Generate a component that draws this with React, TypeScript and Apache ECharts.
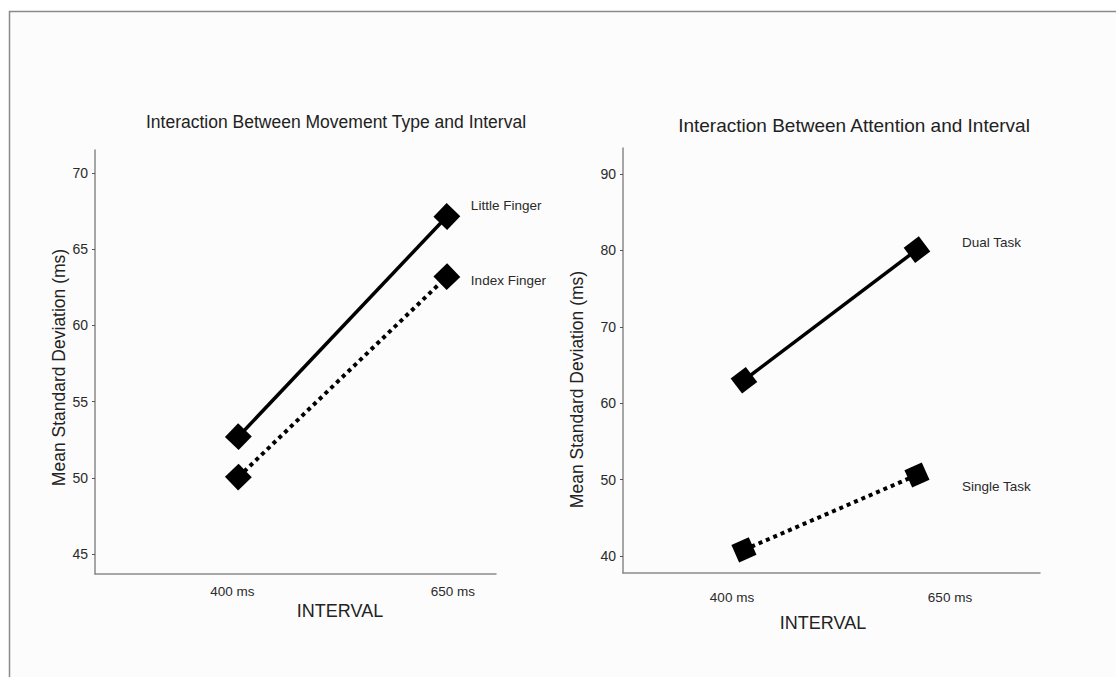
import React, { useEffect, useRef } from "react";
import * as echarts from "echarts";

// ---- data ----
const intervals = ["400 ms", "650 ms"];
const littleFinger = [52.7, 67.15];
const indexFinger = [50.05, 63.2];
const dualTask = [63.0, 80.1];
const singleTask = [40.8, 50.6];
const leftTicks = [45, 50, 55, 60, 65, 70];
const rightTicks = [40, 50, 60, 70, 80, 90];
const xPositions = [0, 1];
const leftTitle = "Interaction Between Movement Type and Interval";
const rightTitle = "Interaction Between Attention and Interval";
const yName = "Mean Standard Deviation (ms)";
const xName = "INTERVAL";

const font = "'Liberation Sans', Arial, Helvetica, sans-serif";
const axisGray = "#8a8a8a";
const textColor = "#2a2a2a";

function toPoints(values: number[]) {
  return values.map((v, i) => [xPositions[i], v]);
}

function lineSeries(
  name: string,
  values: number[],
  axis: number,
  dotted: boolean,
  rotate: number,
  labelOffset: number[]
) {
  return {
    type: "line",
    name,
    xAxisIndex: axis * 2,
    yAxisIndex: axis,
    data: toPoints(values),
    symbol: "rect",
    symbolSize: 19,
    symbolRotate: rotate,
    silent: true,
    emphasis: { disabled: true },
    itemStyle: { color: "#000" },
    lineStyle: {
      color: "#000",
      width: dotted ? 4 : 3.5,
      type: dotted ? [4, 4] : "solid",
      cap: "butt",
    },
    label: {
      show: true,
      position: "inside",
      align: "left",
      verticalAlign: "middle",
      offset: labelOffset,
      color: textColor,
      fontSize: 13.5,
      fontFamily: font,
      formatter: (p: any) => (p.dataIndex === values.length - 1 ? p.seriesName : ""),
    },
  };
}

function yAxis(grid: number, min: number, max: number, ticks: number[], gap: number, shift: number) {
  return {
    gridIndex: grid,
    type: "value",
    min,
    max,
    axisLine: { show: true, onZero: false, lineStyle: { color: axisGray, width: 1.5 } },
    axisTick: { show: true, customValues: ticks, length: 3, lineStyle: { color: "#555", width: 1 } },
    axisLabel: { customValues: ticks, margin: 7, fontSize: 14, color: textColor, fontFamily: font },
    splitLine: { show: false },
    name: yName,
    nameLocation: "middle",
    nameGap: gap,
    nameRotate: 90,
    nameTextStyle: { fontSize: 17.5, color: "#222", fontFamily: font, padding: [0, shift, 0, 0] },
  };
}

function xLineAxis(grid: number, min: number, max: number, gap: number, pad: number[]) {
  return {
    gridIndex: grid,
    type: "value",
    position: "bottom",
    min,
    max,
    axisLine: { show: true, onZero: false, lineStyle: { color: axisGray, width: 1.5 } },
    axisTick: { show: false },
    axisLabel: { show: false },
    splitLine: { show: false },
    name: xName,
    nameLocation: "middle",
    nameGap: gap,
    nameTextStyle: { fontSize: 18, color: "#222", fontFamily: font, padding: pad },
  };
}

function xLabelAxis(grid: number, min: number, max: number, margin: number) {
  return {
    gridIndex: grid,
    type: "value",
    position: "bottom",
    min,
    max,
    axisLine: { show: false, onZero: false },
    axisTick: { show: false },
    splitLine: { show: false },
    axisLabel: {
      customValues: xPositions,
      formatter: (v: number) => intervals[Math.round(v)],
      margin,
      fontSize: 13.5,
      color: textColor,
      fontFamily: font,
    },
  };
}

export default function App() {
  const ref = useRef<HTMLDivElement>(null);

  useEffect(() => {
    if (!ref.current) return;
    const chart = echarts.init(ref.current, undefined, { renderer: "svg" });
    chart.setOption({
      animation: false,
      backgroundColor: "#ffffff",
      graphic: [
        {
          type: "rect",
          z: -10,
          silent: true,
          shape: { x: 9.5, y: 11.5, width: 1200, height: 800 },
          style: { fill: "#fcfcfc", stroke: "#8a8a8a", lineWidth: 1.5 },
        },
        {
          type: "text",
          x: 336,
          y: 122,
          silent: true,
          style: { text: leftTitle, align: "center", verticalAlign: "middle", fontSize: 17.5, fill: "#222", fontFamily: font },
        },
        {
          type: "text",
          x: 854,
          y: 125,
          silent: true,
          style: { text: rightTitle, align: "center", verticalAlign: "middle", fontSize: 19, fill: "#222", fontFamily: font },
        },
      ],
      grid: [
        { left: 95, top: 150, width: 401, height: 424 },
        { left: 623, top: 148, width: 417, height: 425 },
      ],
      xAxis: [
        xLineAxis(0, -0.6875, 1.2356, 28, [0, 0, 0, 89]),
        xLabelAxis(0, -0.6227, 1.1955, 10),
        xLineAxis(1, -0.699, 1.711, 41, [0, 17, 0, 0]),
        xLabelAxis(1, -0.5, 1.4128, 17),
      ],
      yAxis: [
        yAxis(0, 43.69, 71.51, leftTicks, 27, 11),
        yAxis(1, 37.77, 93.4, rightTicks, 37, 58),
      ],
      series: [
        lineSeries("Little Finger", littleFinger, 0, false, 46, [24, -11]),
        lineSeries("Index Finger", indexFinger, 0, true, 44, [24, 4]),
        lineSeries("Dual Task", dualTask, 1, false, 37, [45, -7]),
        lineSeries("Single Task", singleTask, 1, true, 24, [45, 12]),
      ],
    });
    return () => chart.dispose();
  }, []);

  return (
    <div
      ref={ref}
      style={{ position: "absolute", left: 0, top: 0, width: 1116, height: 677 }}
    />
  );
}
